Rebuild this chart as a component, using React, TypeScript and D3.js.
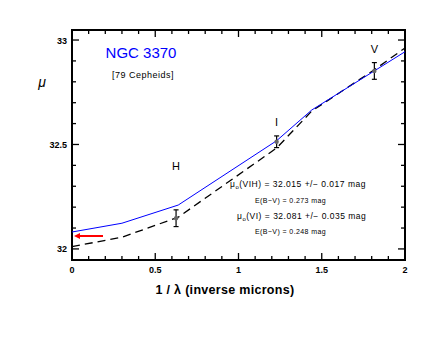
import React from "react";
import * as d3 from "d3";

// curve nodes
const nodeX = [0, 0.3, 0.638, 1.229, 1.44, 2.0];
const viMu = [32.081, 32.123, 32.21, 32.518, 32.665, 32.944];
const vihX = [0, 0.3, 0.638, 1.229, 1.44, 1.82, 2.0];
const vihMu = [32.011, 32.056, 32.152, 32.483, 32.66, 32.86, 32.962];

const bands = ["H", "I", "V"];
const bandX = [0.625, 1.229, 1.816];
const bandMu = [32.147, 32.513, 32.852];
const bandErr = [0.04, 0.028, 0.04];

const xTicks = [0, 0.5, 1, 1.5, 2];
const yTicks = [32, 32.5, 33];

const W = 436, H = 337;
const L = 72, R = 405, T = 30, B = 260;
const font = "Liberation Sans, Arial, sans-serif";

export default function App() {
  const x = d3.scaleLinear().domain([0, 2]).range([L, R]);
  const y = d3.scaleLinear().domain([31.947, 33.048]).range([B, T]);

  const line = d3.line<[number, number]>().x(d => x(d[0])).y(d => y(d[1]));
  const viPath = line(nodeX.map((v, i) => [v, viMu[i]]));
  const vihPath = line(vihX.map((v, i) => [v, vihMu[i]]));

  const xMinor = d3.range(0, 2.001, 0.1);
  const yMinor = d3.range(31.95, 33.05, 0.1).map(v => Math.round(v * 10) / 10).filter(v => v >= 31.95 && v <= 33.04);

  const isMajor = (v: number) => Math.abs(v * 2 - Math.round(v * 2)) < 1e-6;

  return (
    <div style={{ position: "absolute", left: 0, top: 0 }}>
      <svg width={W} height={H} style={{ display: "block", background: "#fff" }} fontFamily={font}>
        {/* x ticks, bottom and top */}
        {xMinor.map((v, i) => {
          const len = isMajor(v) ? 7 : 4;
          return (
            <g key={"xt" + i} stroke="#000" strokeWidth={1.3}>
              <line x1={x(v)} x2={x(v)} y1={B} y2={B - len} />
              <line x1={x(v)} x2={x(v)} y1={T} y2={T + len} />
            </g>
          );
        })}
        {yMinor.map((v, i) => {
          const len = isMajor(v) ? 7 : 4;
          return (
            <g key={"yt" + i} stroke="#000" strokeWidth={1.3}>
              <line x1={L} x2={L + len} y1={y(v)} y2={y(v)} />
              <line x1={R} x2={R - len} y1={y(v)} y2={y(v)} />
            </g>
          );
        })}
        <rect x={L} y={T} width={R - L} height={B - T} fill="none" stroke="#000" strokeWidth={2} />

        {xTicks.map(v => (
          <text key={"xl" + v} x={x(v)} y={B + 13} textAnchor="middle" fontSize={9} fontWeight="bold">{v}</text>
        ))}
        {yTicks.map(v => (
          <text key={"yl" + v} x={L - 5} y={y(v) + 3.5} textAnchor="end" fontSize={9} fontWeight="bold">{v}</text>
        ))}

        <text x={225} y={294} textAnchor="middle" fontSize={12.5} fontWeight="bold" letterSpacing={0.3}>1 / λ (inverse microns)</text>
        <text x={42} y={87} textAnchor="middle" fontSize={14} fontStyle="italic">μ</text>

        <text x={141} y={58} textAnchor="middle" fontSize={15} fill="#0000ff">NGC 3370</text>
        <text x={143} y={78} textAnchor="middle" fontSize={9} letterSpacing={0.5}>[79 Cepheids]</text>

        {/* curves */}
        <path d={vihPath || ""} fill="none" stroke="#000" strokeWidth={1.3} strokeDasharray="8,5" />
        <path d={viPath || ""} fill="none" stroke="#0000ff" strokeWidth={1} />

        {/* points with error bars */}
        {bands.map((b, i) => {
          const cx = x(bandX[i]);
          const y0 = y(bandMu[i] - bandErr[i]);
          const y1 = y(bandMu[i] + bandErr[i]);
          return (
            <g key={b}>
              <g stroke="#000" strokeWidth={1.2}>
                <line x1={cx} x2={cx} y1={y0} y2={y1} />
                <line x1={cx - 2.5} x2={cx + 2.5} y1={y0} y2={y0} />
                <line x1={cx - 2.5} x2={cx + 2.5} y1={y1} y2={y1} />
              </g>
              <circle cx={cx} cy={y(bandMu[i])} r={2.2} fill="#666" />
              <text x={cx} y={y(bandMu[i] + bandErr[i]) - 10 - (i === 0 ? 30 : 0)} textAnchor="middle" fontSize={11}>{b}</text>
            </g>
          );
        })}

        {/* red arrow */}
        <line x1={103} x2={78} y1={236} y2={236} stroke="#ff0000" strokeWidth={2} />
        <path d="M74,236 L80,233 L80,239 Z" fill="#ff0000" />

        {/* annotations */}
        <text x={230} y={187} fontSize={8.5} letterSpacing={0.5}>μ<tspan fontSize={6} dy={2}>o</tspan><tspan dy={-2}>(VIH) = 32.015 +/− 0.017 mag</tspan></text>
        <text x={255} y={203} fontSize={7} letterSpacing={0.4}>E(B−V) = 0.273 mag</text>
        <text x={237} y={219} fontSize={8.5} letterSpacing={0.5}>μ<tspan fontSize={6} dy={2}>o</tspan><tspan dy={-2}>(VI) = 32.081 +/− 0.035 mag</tspan></text>
        <text x={255} y={234} fontSize={7} letterSpacing={0.4}>E(B−V) = 0.248 mag</text>
      </svg>
    </div>
  );
}
